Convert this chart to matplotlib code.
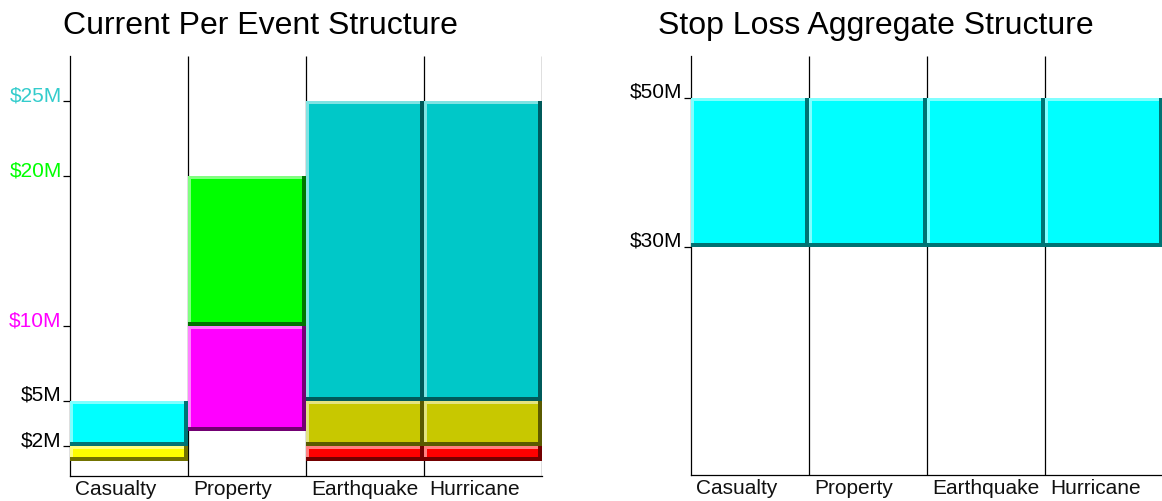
import matplotlib.pyplot as plt
from matplotlib.colors import to_rgb

plt.rcParams['font.family'] = ['Liberation Sans', 'DejaVu Sans']

categories = ['Casualty', 'Property', 'Earthquake', 'Hurricane']

# per event layers ($M): category index, attachment, limit
event_cat = [0, 0, 1, 1, 2, 2, 2, 3, 3, 3]
event_lo = [1, 2, 3, 10, 1, 2, 5, 1, 2, 5]
event_hi = [2, 5, 10, 20, 2, 5, 25, 2, 5, 25]
event_colors = ['#FFFF00', '#00FFFF', '#FF00FF', '#00FF00',
                '#FF0000', '#C8C800', '#00C8C8',
                '#FF0000', '#C8C800', '#00C8C8']

event_ticks = [2, 5, 10, 20, 25]
event_tick_labels = ['$2M', '$5M', '$10M', '$20M', '$25M']
event_tick_colors = ['black', 'black', '#FF00FF', '#00FF00', '#33CCCC']

# stop loss aggregate layers ($M)
agg_cat = [0, 1, 2, 3]
agg_lo = [30, 30, 30, 30]
agg_hi = [50, 50, 50, 50]
agg_colors = ['#00FFFF'] * 4

agg_ticks = [30, 50]
agg_tick_labels = ['$30M', '$50M']

W, H = 1162, 501
fig = plt.figure(figsize=(W / 100, H / 100), dpi=100)


def shade(c, f):
    r, g, b = to_rgb(c)
    if f > 0:
        return (r + (1 - r) * f, g + (1 - g) * f, b + (1 - b) * f)
    return (r * (1 + f), g * (1 + f), b * (1 + f))


def block(ax, i, lo, hi, color, px_x, px_y):
    # filled box with a raised bevel: light top/left, dark bottom/right
    ax.bar(i, hi - lo, bottom=lo, width=1, align='edge', color=color, lw=0, zorder=3)
    lt, dk = shade(color, 0.5), shade(color, -0.55)
    ax.bar(i, 3 * px_y, bottom=hi - 3 * px_y, width=1, align='edge', color=lt, lw=0, zorder=4)
    ax.bar(i, hi - lo, bottom=lo, width=3 * px_x, align='edge', color=lt, lw=0, zorder=4)
    ax.bar(i, 4 * px_y, bottom=lo, width=1, align='edge', color=dk, lw=0, zorder=5)
    ax.bar(i + 1 - 4 * px_x, hi - lo, bottom=lo, width=4 * px_x, align='edge',
           color=dk, lw=0, zorder=5)


def panel(rect_px, ylim, cats, los, his, colors, ticks, labels, tick_colors, right_spine):
    x0, top, x1, bottom = rect_px
    ax = fig.add_axes([x0 / W, (H - bottom) / H, (x1 - x0) / W, (bottom - top) / H])
    ax.set_xlim(0, len(categories))
    ax.set_ylim(*ylim)
    px_x = len(categories) / (x1 - x0)
    px_y = (ylim[1] - ylim[0]) / (bottom - top)

    for s in ['top', 'right']:
        ax.spines[s].set_visible(False)
    for s in ['left', 'bottom']:
        ax.spines[s].set_linewidth(0.9)
    ax.spines['left'].set_zorder(1)
    seps = range(1, len(categories) + (1 if right_spine else 0))
    ax.vlines(list(seps), ylim[0], ylim[1], color='black', lw=0.9, zorder=1)

    for i, lo, hi, c in zip(cats, los, his, colors):
        block(ax, i, lo, hi, c, px_x, px_y)

    ax.set_yticks(ticks)
    ax.set_yticklabels(labels, fontsize=15)
    for lab, c in zip(ax.get_yticklabels(), tick_colors):
        lab.set_color(c)
        lab.set_va('baseline')
    ax.tick_params(axis='y', length=5, width=0.9, pad=1)
    ax.set_xticks([])

    for i, name in enumerate(categories):
        ax.annotate(name, xy=(i, 0), xycoords=('data', 'axes fraction'),
                    xytext=(5, -4), textcoords='offset pixels',
                    ha='left', va='top', fontsize=15, color='#111111')
    return ax


panel((70, 56, 542, 476), (0, 28), event_cat, event_lo, event_hi, event_colors,
      event_ticks, event_tick_labels, event_tick_colors, True)
panel((691, 56, 1163, 475), (-0.6, 55.6), agg_cat, agg_lo, agg_hi, agg_colors,
      agg_ticks, agg_tick_labels, ['black', 'black'], False)

fig.text(63 / W, 1 - 34 / H, 'Current Per Event Structure', fontsize=23,
         ha='left', va='baseline')
fig.text(658 / W, 1 - 34 / H, 'Stop Loss Aggregate Structure', fontsize=23,
         ha='left', va='baseline')

fig.savefig('out.png', dpi=100)
